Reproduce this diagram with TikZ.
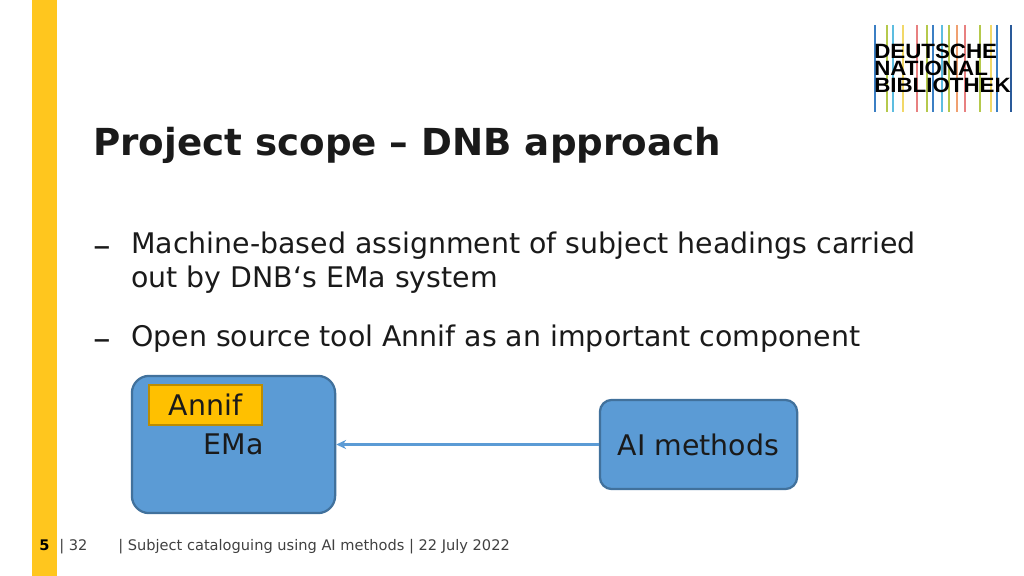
\documentclass[tikz,border=0pt]{standalone}
\usepackage{fontspec}
\setmainfont{DejaVu Sans}
\newfontfamily\logofont[FakeStretch=1.08]{Liberation Sans}
\usetikzlibrary{arrows.meta}
\definecolor{barcol}{HTML}{FFC61E}
\definecolor{boxcol}{HTML}{5B9BD5}
\definecolor{boxline}{HTML}{41719C}
\definecolor{annifcol}{HTML}{FFC000}
\definecolor{annifline}{HTML}{BC8C00}
\definecolor{txtcol}{HTML}{1A1A1A}
\definecolor{footcol}{HTML}{404040}
\definecolor{lblue}{HTML}{3B7FC4}
\definecolor{lolive}{HTML}{B5C94C}
\definecolor{lcyan}{HTML}{5DBDE0}
\definecolor{lyellow}{HTML}{F2D868}
\definecolor{lred}{HTML}{E88080}
\definecolor{lorange}{HTML}{F0A070}
\definecolor{ldark}{HTML}{2A5A9A}
\tikzset{
	bodytext/.style={anchor=base west,inner sep=0pt,text=txtcol,font=\fontsize{20.2}{24}\selectfont},
	dashtext/.style={anchor=base west,inner sep=0pt,text=txtcol,font=\fontsize{25}{24}\selectfont},
	foottext/.style={anchor=base west,inner sep=0pt,text=footcol,font=\fontsize{10.38}{12}\selectfont},
	logotext/.style={anchor=base west,inner sep=0pt,text=black,font=\logofont\bfseries\fontsize{14.7}{18}\selectfont},
	bluebox/.style={draw=boxline,line width=1.6pt,fill=boxcol,text=txtcol,font=\fontsize{20.2}{24}\selectfont},
	logoline/.style={line width=1.3pt}
}
\begin{document}
\begin{tikzpicture}[x=0.025cm,y=-0.025cm]
	\useasboundingbox (0,0) rectangle (1024,576);
	\fill[barcol] (32,0) rectangle (57,576);

	% logo
	\foreach \x/\c in {875/lblue,887/lolive,893/lcyan,903/lyellow,917/lred,927/lolive,933/lblue,942/lcyan,949/lolive,957/lorange,965/lred,980/lolive,991/lyellow,997/lblue,1011/ldark}
		\draw[logoline,\c] (\x,25) -- (\x,112);
	\node[logotext] (logo1) at (874,59) {DEUTSCHE};
	\node[logotext] (logo2) at (874,76) {NATIONAL};
	\node[logotext] (logo3) at (874,93) {BIBLIOTHEK};

	% text
	\node[anchor=base west,inner sep=0pt,text=txtcol,font=\bfseries\fontsize{26.47}{30}\selectfont] (title) at (93,156) {Project scope -- DNB approach};
	\node[dashtext] (dash1) at (93,258) {--};
	\node[bodytext] (line1) at (131,254) {Machine-based assignment of subject headings carried};
	\node[bodytext] (line2) at (131,288) {out by DNB‘s EMa system};
	\node[dashtext] (dash2) at (93,351) {--};
	\node[bodytext] (line3) at (131,347) {Open source tool Annif as an important component};

	% boxes
	\node[bluebox,rounded corners=0.43cm,minimum width=5.08cm,minimum height=3.43cm] (ema) at (233.5,444.5) {EMa};
	\node[draw=annifline,line width=1.6pt,fill=annifcol,text=txtcol,font=\fontsize{20.2}{24}\selectfont,minimum width=2.82cm,minimum height=1cm,inner sep=0pt] (annif) at (205.5,405) {Annif};
	\node[bluebox,rounded corners=0.3cm,minimum width=4.93cm,minimum height=2.23cm] (ai) at (698.5,444.5) {AI methods};
	\draw[-{Stealth[length=7pt,width=6.5pt]},boxcol,line width=2pt] (ai) -- (ema);

	% footer
	\node[foottext,font=\bfseries\fontsize{10.38}{12}\selectfont,text=black] (page) at (39,550) {5};
	\node[foottext] (total) at (59,550) {| 32};
	\node[foottext] (foot) at (118,550) {| Subject cataloguing using AI methods | 22 July 2022};
\end{tikzpicture}
\end{document}
